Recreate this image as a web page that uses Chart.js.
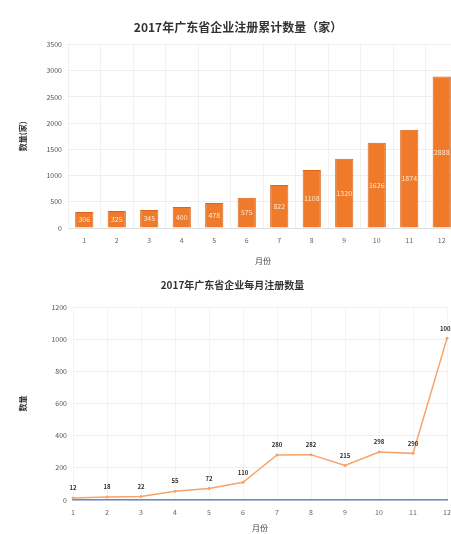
<!DOCTYPE html>
<html>
<head>
<meta charset="utf-8">
<script src="https://cdn.jsdelivr.net/npm/chart.js@4.4.1/dist/chart.umd.min.js"></script>
<style>
  html, body { margin: 0; padding: 0; background: #fff; overflow: hidden; }
  #wrap { width: 460px; }
  .box { position: relative; width: 460px; }
  #b1 { height: 270px; }
  #b2 { height: 264px; }
</style>
</head>
<body>
<div id="wrap">
  <div class="box" id="b1"><canvas id="c1"></canvas></div>
  <div class="box" id="b2"><canvas id="c2"></canvas></div>
</div>
<script>
// ---- data ----
const months = ['1', '2', '3', '4', '5', '6', '7', '8', '9', '10', '11', '12'];
const cumulativeCount = [306, 325, 345, 400, 478, 575, 822, 1108, 1320, 1626, 1874, 2888];
const monthlyCount = [12, 18, 22, 55, 72, 110, 280, 282, 215, 298, 290, 1005];
const topTitle = '2017年广东省企业注册累计数量（家）';
const bottomTitle = '2017年广东省企业每月注册数量';
const yTitleTop = '数量(家)';
const yTitleBottom = '数量';
const xTitle = '月份';

const FONT = "'Noto Sans CJK SC', 'Noto Sans', sans-serif";

const valueLabels = {
  id: 'valueLabels',
  afterDatasetsDraw(chart, args, opts) {
    const ctx = chart.ctx;
    chart.data.datasets.forEach((ds, i) => {
      const meta = chart.getDatasetMeta(i);
      if (meta.hidden) return;
      meta.data.forEach((el, j) => {
        const v = ds.data[j];
        ctx.save();
        ctx.font = opts.font || ('7px ' + FONT);
        ctx.fillStyle = opts.color || '#333';
        ctx.textAlign = 'center';
        ctx.textBaseline = 'middle';
        if (opts.mode === 'center') {
          ctx.fillText(String(v), el.x, (el.y + el.base) / 2);
        } else {
          ctx.fillText(String(v), el.x, el.y - (opts.offset || 9));
        }
        ctx.restore();
      });
    });
  }
};

Chart.defaults.font.family = FONT;
Chart.defaults.color = '#555';
const plain = (v) => String(v);

new Chart(document.getElementById('c1'), {
  type: 'bar',
  data: {
    labels: months,
    datasets: [{
      label: '累计数量',
      data: cumulativeCount,
      backgroundColor: '#EE7A2A',
      borderColor: '#D9661C',
      borderWidth: 1,
      categoryPercentage: 0.56,
      barPercentage: 1.0
    }]
  },
  options: {
    responsive: true,
    maintainAspectRatio: false,
    animation: false,
    layout: { padding: { left: 18, right: 2, top: 0, bottom: 4 } },
    plugins: {
      legend: { display: false },
      tooltip: { enabled: false },
      title: {
        display: true,
        text: topTitle,
        color: '#333',
        font: { size: 12, weight: 'bold', family: FONT },
        padding: { top: 20, bottom: 10 }
      },
      valueLabels: { mode: 'center', color: '#FFE9D6', font: '7px ' + FONT }
    },
    scales: {
      x: {
        grid: { color: '#f1f1f1', drawTicks: false },
        border: { color: '#ddd' },
        ticks: { font: { size: 7 }, color: '#666', padding: 8 },
        title: { display: true, text: xTitle, font: { size: 8 }, color: '#444', padding: { top: 2, bottom: 0 } },
        afterFit: (s) => { s.height = 38; }
      },
      y: {
        min: 0, max: 3500,
        ticks: { stepSize: 500, font: { size: 7 }, color: '#555', padding: 6, callback: plain },
        grid: { color: '#eeeeee', drawTicks: false },
        border: { display: false },
        title: { display: true, text: yTitleTop, font: { size: 8, weight: 'bold' }, color: '#333', padding: 0 },
        afterFit: (s) => { s.width = 50; }
      }
    }
  },
  plugins: [valueLabels]
});

new Chart(document.getElementById('c2'), {
  type: 'line',
  data: {
    labels: months,
    datasets: [{
      label: '注册数量',
      data: monthlyCount,
      borderColor: '#F4A46C',
      backgroundColor: '#F4A46C',
      borderWidth: 1.5,
      pointRadius: 1.5,
      pointBorderWidth: 0,
      tension: 0
    }]
  },
  options: {
    responsive: true,
    maintainAspectRatio: false,
    animation: false,
    layout: { padding: { left: 18, right: 13, top: 0, bottom: 1 } },
    plugins: {
      legend: { display: false },
      tooltip: { enabled: false },
      title: {
        display: true,
        text: bottomTitle,
        color: '#333',
        font: { size: 10, weight: 'bold', family: FONT },
        padding: { top: 9, bottom: 16 }
      },
      valueLabels: { mode: 'top', color: '#333', font: 'bold 6px ' + FONT, offset: 10 }
    },
    scales: {
      x: {
        grid: { color: '#f4f4f4', drawTicks: false },
        border: { color: '#6F86C6', width: 1.5 },
        ticks: { font: { size: 7 }, color: '#666', padding: 8 },
        title: { display: true, text: xTitle, font: { size: 8 }, color: '#444', padding: { top: 0, bottom: 0 } },
        afterFit: (s) => { s.height = 33; }
      },
      y: {
        min: 0, max: 1200,
        ticks: { stepSize: 200, font: { size: 7 }, color: '#555', padding: 6, callback: plain },
        grid: { color: '#eeeeee', drawTicks: false },
        border: { display: false },
        title: { display: true, text: yTitleBottom, font: { size: 8, weight: 'bold' }, color: '#333', padding: 0 },
        afterFit: (s) => { s.width = 55; }
      }
    }
  },
  plugins: [valueLabels]
});
</script>
</body>
</html>
